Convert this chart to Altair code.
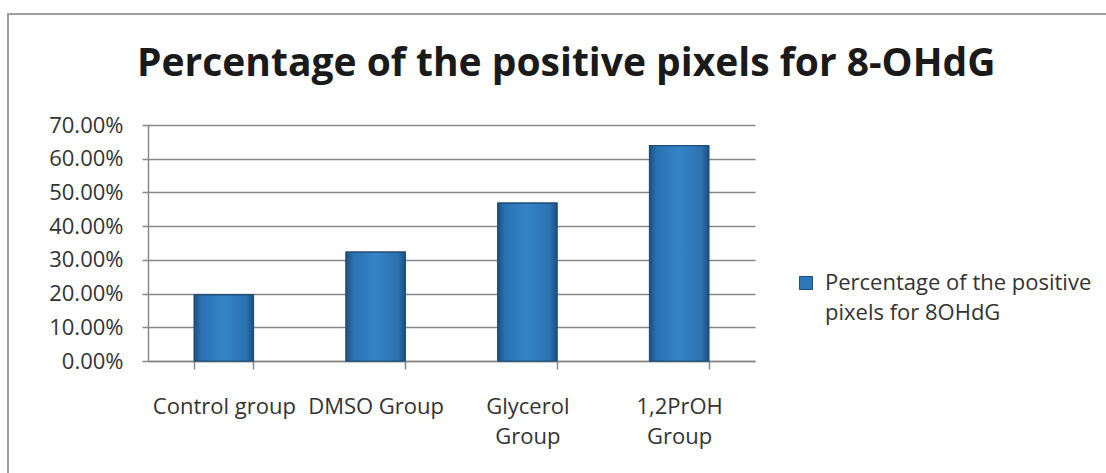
import altair as alt
import pandas as pd

categories = ["Control group", "DMSO Group", "Glycerol Group", "1,2PrOH Group"]
values = [0.196, 0.323, 0.468, 0.639]
series_name = "Percentage of the positive pixels for 8OHdG"
title_text = "Percentage of the positive pixels for 8-OHdG"
y_ticks = [0, 0.1, 0.2, 0.3, 0.4, 0.5, 0.6, 0.7]

df = pd.DataFrame({"group": categories, "value": values, "series": [series_name] * len(categories)})

FONT = "Open Sans"
FS = 22

x_enc = alt.X("group:N", sort=categories, title=None,
              scale=alt.Scale(paddingInner=0.61, paddingOuter=0.305),
              axis=alt.Axis(labelAngle=0, tickBand="extent", tickSize=8, tickColor="#888888",
                            domainColor="#888888", domainWidth=1.5, tickWidth=1.5,
                            labelFontSize=FS, labelColor="#333333", labelFont=FONT, labelPadding=27,
                            labelLineHeight=30,
                            labelExpr="indexof(['Glycerol Group','1,2PrOH Group'], datum.label) >= 0 ? split(datum.label, ' ') : datum.label"))
y_enc = alt.Y("value:Q", title=None,
              scale=alt.Scale(domain=[0, 0.7], nice=False),
              axis=alt.Axis(values=y_ticks, format=".2%", grid=True, gridColor="#888888", gridWidth=1.5,
                            domainColor="#888888", domainWidth=1.5, tickColor="#888888", tickWidth=1.5,
                            tickSize=6, labelFontSize=FS, labelColor="#333333", labelFont=FONT,
                            labelPadding=19))

bars = alt.Chart(df).mark_bar(stroke="#1f4e79", strokeWidth=1.2).encode(
    x=x_enc, y=y_enc,
    color=alt.Color("series:N", title=None,
                    scale=alt.Scale(range=["#2e78ba"]),
                    legend=alt.Legend(orient="none", legendX=647, legendY=147, symbolType="square",
                                      symbolSize=170, symbolStrokeColor="#1f4e79", symbolStrokeWidth=1,
                                      labelFontSize=FS, labelColor="#333333", labelFont=FONT,
                                      labelLimit=400, labelOffset=8,
                                      labelExpr="['Percentage of the positive', 'pixels for 8OHdG']")),
)

grad = alt.LinearGradient(
    gradient="linear", x1=0, x2=1, y1=0, y2=0,
    stops=[alt.GradientStop(offset=0, color="#1b4f80"),
           alt.GradientStop(offset=0.12, color="#2b72b2"),
           alt.GradientStop(offset=0.5, color="#3583c7"),
           alt.GradientStop(offset=0.88, color="#2b72b2"),
           alt.GradientStop(offset=1, color="#1b4f80")])

shade = alt.Chart(df).mark_bar(fill=grad, stroke="#1f4e79", strokeWidth=1.2).encode(x=x_enc, y=y_enc)

border = alt.Chart(pd.DataFrame({"k": [0]})).mark_rect(fill="transparent", stroke="#a0a0a0", strokeWidth=2).encode(
    x=alt.value(-140), x2=alt.value(1000), y=alt.value(-111), y2=alt.value(400)
)

chart = alt.layer(border, bars, shade).properties(
    width=607, height=236,
    title=alt.TitleParams(title_text, anchor="start", dx=130, offset=-110, fontSize=39, font=FONT,
                          fontWeight="bold", color="#1a1a1a", baseline="bottom"),
    autosize=alt.AutoSizeParams(type="none"),
    padding={"left": 148, "top": 125, "right": 351, "bottom": 112},
).configure(
    background="white",
    view=alt.ViewConfig(stroke="transparent"),
    style={"guide-label": {"lineHeight": 30}},
)

chart.save("out.html", embed_options={"renderer": "svg", "actions": False})
